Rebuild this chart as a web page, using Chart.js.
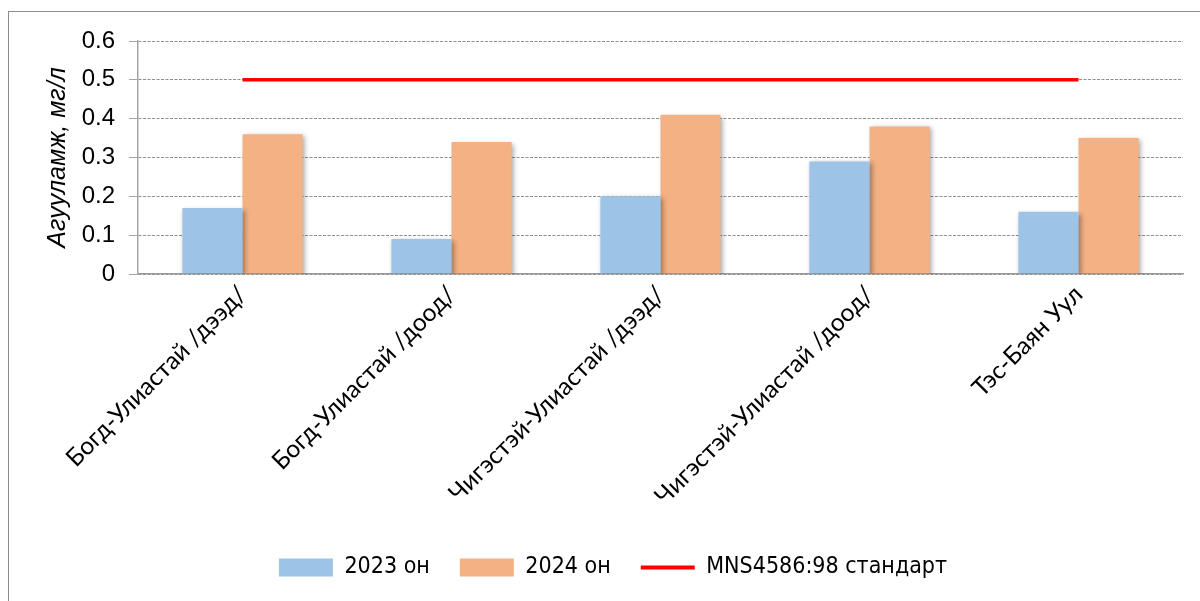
<!DOCTYPE html>
<html>
<head>
<meta charset="utf-8">
<script src="https://cdn.jsdelivr.net/npm/chart.js@4/dist/chart.umd.min.js"></script>
<style>
  html, body { margin: 0; padding: 0; background: #fff; }
  #wrap { width: 1200px; height: 601px; position: relative; }
</style>
</head>
<body>
<div id="wrap"><canvas id="chart" width="1200" height="601"></canvas></div>
<script>
// data
const stations = [
    'Богд-Улиастай /дээд/',
    'Богд-Улиастай /доод/',
    'Чигэстэй-Улиастай /дээд/',
    'Чигэстэй-Улиастай /доод/',
    'Тэс-Баян Уул'
];
const values2023 = [0.17, 0.09, 0.20, 0.29, 0.16];
const values2024 = [0.36, 0.34, 0.41, 0.38, 0.35];
const standardLimit = [0.5, 0.5, 0.5, 0.5, 0.5];

const calibriLike = "Lato, 'Open Sans', sans-serif";
const narrowLike = "'Liberation Sans Narrow', 'DejaVu Sans Condensed', Lato, sans-serif";
const arialLike = "'Liberation Sans', Arial, sans-serif";

// outer frame, like the office chart border
const framePlugin = {
    id: 'frame',
    beforeDraw(chart) {
        const ctx = chart.ctx;
        ctx.save();
        ctx.strokeStyle = '#8c8c8c';
        ctx.lineWidth = 1;
        ctx.strokeRect(8.5, 11.5, 1200, 620);
        ctx.restore();
    }
};

// soft shadow under the bars
const shadowPlugin = {
    id: 'barShadow',
    beforeDatasetDraw(chart, args) {
        if (args.meta.type !== 'bar') return;
        const ctx = chart.ctx;
        ctx.save();
        ctx.shadowColor = 'rgba(0,0,0,0.35)';
        ctx.shadowBlur = 5;
        ctx.shadowOffsetX = 2;
        ctx.shadowOffsetY = 2;
    },
    afterDatasetDraw(chart, args) {
        if (args.meta.type !== 'bar') return;
        chart.ctx.restore();
    }
};

new Chart(document.getElementById('chart'), {
    type: 'bar',
    data: {
        labels: stations,
        datasets: [
            {
                label: '2023 он',
                data: values2023,
                backgroundColor: '#9DC3E6',
                categoryPercentage: 0.575,
                barPercentage: 1.0,
                order: 2
            },
            {
                label: '2024 он',
                data: values2024,
                backgroundColor: '#F4B183',
                categoryPercentage: 0.575,
                barPercentage: 1.0,
                order: 2
            },
            {
                type: 'line',
                label: 'MNS4586:98 стандарт',
                data: standardLimit,
                borderColor: '#FF0000',
                backgroundColor: '#FF0000',
                borderWidth: 3.5,
                pointRadius: 0,
                fill: false,
                order: 1
            }
        ]
    },
    options: {
        responsive: false,
        animation: false,
        layout: { padding: { left: 43, right: 17, top: 41, bottom: 12 } },
        plugins: {
            tooltip: { enabled: false },
            legend: {
                position: 'bottom',
                labels: {
                    font: { family: narrowLike, size: 23 },
                    color: '#000',
                    usePointStyle: true,
                    pointStyleWidth: 54,
                    boxHeight: 18,
                    padding: 30,
                    sort: (a, b) => a.datasetIndex - b.datasetIndex,
                    generateLabels(chart) {
                        const items = Chart.defaults.plugins.legend.labels.generateLabels(chart);
                        items.forEach(it => {
                            if (it.text.startsWith('MNS')) {
                                it.pointStyle = 'line';
                                it.strokeStyle = '#FF0000';
                                it.lineWidth = 4;
                            } else {
                                it.pointStyle = 'rect';
                                it.lineWidth = 0;
                            }
                        });
                        return items;
                    }
                }
            }
        },
        scales: {
            x: {
                grid: { display: false, drawTicks: false },
                border: { color: '#999', width: 1.5 },
                ticks: {
                    font: { family: calibriLike, size: 24.5 },
                    color: '#000',
                    maxRotation: 45,
                    minRotation: 45,
                    padding: 6,
                    labelOffset: 0
                },
                afterFit(scale) { scale.height = 252; }
            },
            y: {
                min: 0,
                max: 0.6,
                ticks: {
                    stepSize: 0.1,
                    font: { family: arialLike, size: 24 },
                    color: '#000',
                    padding: 14,
                    callback: v => v === 0 ? '0' : v.toFixed(1)
                },
                grid: {
                    color: '#8f8f8f',
                    tickLength: 9,
                    tickBorderDash: [],
                    tickColor: '#a6a6a6',
                    lineWidth: 1
                },
                border: { color: '#a6a6a6', width: 1.5, dash: [3, 1.5] },
                title: {
                    display: true,
                    text: 'Агууламж, мг/л',
                    font: { family: arialLike, size: 25, style: 'italic' },
                    color: '#000',
                    padding: { top: 0, bottom: 0 }
                },
                afterFit(scale) { scale.width = 95; }
            }
        }
    },
    plugins: [framePlugin, shadowPlugin]
});
</script>
</body>
</html>
